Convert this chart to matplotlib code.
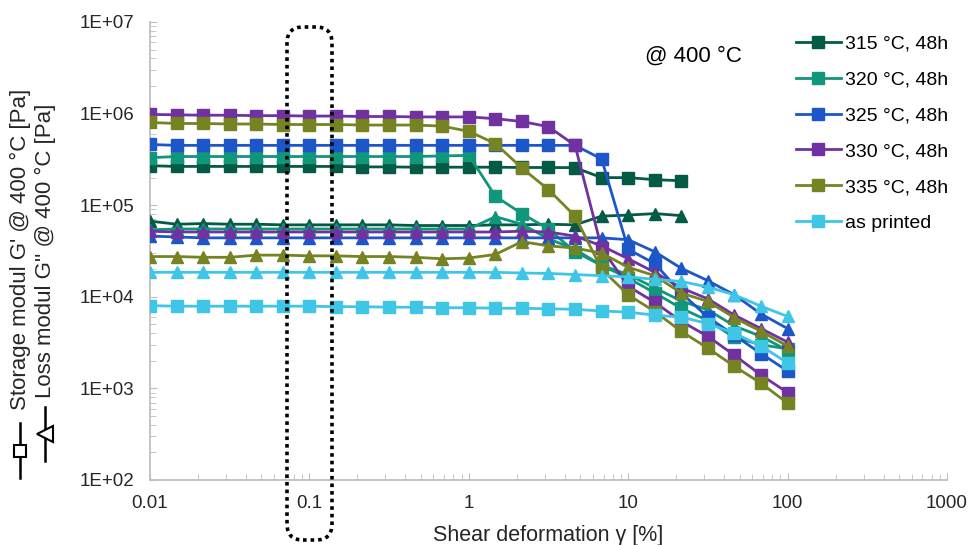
import numpy as np
import matplotlib
matplotlib.use("Agg")
import matplotlib.pyplot as plt
from matplotlib.lines import Line2D
from matplotlib.patches import FancyBboxPatch
from matplotlib.transforms import IdentityTransform

plt.rcParams["font.family"] = ["Liberation Sans", "DejaVu Sans"]

# shear deformation [%], 6 points per decade
strain = [0.01, 0.0147, 0.0215, 0.0316, 0.0464, 0.0681, 0.1, 0.147, 0.215, 0.316,
          0.464, 0.681, 1, 1.47, 2.15, 3.16, 4.64, 6.81, 10, 14.7, 21.5, 31.6,
          46.4, 68.1, 100]

labels = ["315 °C, 48h", "320 °C, 48h", "325 °C, 48h", "330 °C, 48h",
          "335 °C, 48h", "as printed"]
colors = ["#035a45", "#10967a", "#1c56c9", "#7131a1", "#768322", "#3fc6e6"]

# storage modulus G' [Pa]
g1_315 = [2.7e5, 2.65e5, 2.65e5, 2.65e5, 2.65e5, 2.65e5, 2.65e5, 2.65e5, 2.62e5,
          2.62e5, 2.6e5, 2.6e5, 2.6e5, 2.6e5, 2.58e5, 2.58e5, 2.57e5, 2.0e5,
          2.0e5, 1.9e5, 1.85e5]
g1_320 = [3.3e5, 3.4e5, 3.4e5, 3.4e5, 3.4e5, 3.4e5, 3.4e5, 3.4e5, 3.4e5, 3.4e5,
          3.4e5, 3.45e5, 3.5e5, 1.25e5, 8.1e4, 5.5e4, 3.1e4, 2.2e4, 1.6e4,
          1.1e4, 7.5e3, 5.5e3, 3.6e3, 3.0e3, 2.7e3]
g1_325 = [4.6e5, 4.5e5, 4.5e5, 4.5e5, 4.5e5, 4.5e5, 4.5e5, 4.5e5, 4.5e5, 4.5e5,
          4.5e5, 4.5e5, 4.5e5, 4.5e5, 4.5e5, 4.5e5, 4.5e5, 3.2e5, 3.3e4,
          2.3e4, 1.1e4, 6.0e3, 3.8e3, 2.4e3, 1.55e3]
g1_330 = [9.8e5, 9.7e5, 9.6e5, 9.6e5, 9.5e5, 9.5e5, 9.4e5, 9.4e5, 9.3e5, 9.3e5,
          9.2e5, 9.2e5, 9.2e5, 8.8e5, 8.2e5, 7.2e5, 4.5e5, 3.4e4, 1.3e4,
          8.7e3, 5.4e3, 3.7e3, 2.3e3, 1.4e3, 9.0e2]
g1_335 = [8.0e5, 7.8e5, 7.8e5, 7.7e5, 7.7e5, 7.6e5, 7.6e5, 7.6e5, 7.5e5, 7.5e5,
          7.5e5, 7.3e5, 6.4e5, 4.7e5, 2.55e5, 1.48e5, 7.6e4, 2.0e4, 1.05e4,
          6.9e3, 4.2e3, 2.75e3, 1.74e3, 1.14e3, 6.9e2]
g1_ap = [8.0e3, 7.9e3, 7.9e3, 7.9e3, 7.9e3, 7.9e3, 7.9e3, 7.8e3, 7.8e3, 7.7e3,
         7.7e3, 7.6e3, 7.6e3, 7.5e3, 7.5e3, 7.4e3, 7.3e3, 7.0e3, 6.8e3, 6.3e3,
         6.0e3, 5.1e3, 4.0e3, 2.9e3, 1.9e3]

# loss modulus G'' [Pa]
g2_315 = [6.7e4, 6.2e4, 6.3e4, 6.2e4, 6.2e4, 6.1e4, 6.1e4, 6.1e4, 6.1e4, 6.1e4,
          6.0e4, 6.0e4, 6.0e4, 6.1e4, 6.1e4, 6.2e4, 6.1e4, 7.6e4, 7.8e4,
          8.1e4, 7.7e4]
g2_320 = [5.4e4, 5.5e4, 5.5e4, 5.5e4, 5.5e4, 5.5e4, 5.5e4, 5.5e4, 5.5e4, 5.5e4,
          5.5e4, 5.5e4, 5.5e4, 7.5e4, 6.2e4, 4.3e4, 3.3e4, 2.2e4, 1.75e4,
          1.25e4, 9.0e3, 7.2e3, 4.8e3, 3.7e3, 2.6e3]
g2_325 = [4.6e4, 4.5e4, 4.4e4, 4.4e4, 4.4e4, 4.4e4, 4.4e4, 4.4e4, 4.4e4, 4.4e4,
          4.4e4, 4.4e4, 4.4e4, 4.4e4, 4.4e4, 4.4e4, 4.4e4, 4.4e4, 4.2e4,
          3.1e4, 2.05e4, 1.5e4, 1.05e4, 6.5e3, 4.5e3]
g2_330 = [5.2e4, 5.1e4, 5.1e4, 5.1e4, 5.1e4, 5.1e4, 5.1e4, 5.1e4, 5.1e4, 5.1e4,
          5.1e4, 5.1e4, 5.1e4, 5.1e4, 5.2e4, 5.1e4, 4.6e4, 3.6e4, 2.6e4,
          1.85e4, 1.25e4, 9.5e3, 6.3e3, 4.5e3, 3.2e3]
g2_335 = [2.75e4, 2.75e4, 2.7e4, 2.7e4, 2.85e4, 2.85e4, 2.8e4, 2.8e4, 2.75e4,
          2.75e4, 2.7e4, 2.6e4, 2.65e4, 2.9e4, 4.0e4, 3.6e4, 3.4e4, 3.0e4,
          2.1e4, 1.7e4, 1.1e4, 8.9e3, 5.9e3, 4.2e3, 2.9e3]
g2_ap = [1.85e4, 1.85e4, 1.85e4, 1.85e4, 1.85e4, 1.85e4, 1.85e4, 1.85e4, 1.85e4,
         1.85e4, 1.85e4, 1.85e4, 1.85e4, 1.85e4, 1.82e4, 1.8e4, 1.75e4, 1.7e4,
         1.65e4, 1.55e4, 1.47e4, 1.28e4, 1.05e4, 7.9e3, 6.1e3]

storage = [g1_315, g1_320, g1_325, g1_330, g1_335, g1_ap]
loss = [g2_315, g2_320, g2_325, g2_330, g2_335, g2_ap]

fig = plt.figure(figsize=(9.69, 5.45), dpi=100)
ax = fig.add_axes([150 / 969, 65 / 545, 797 / 969, 458 / 545])

for g1, g2, c, lab in zip(storage, loss, colors, labels):
    ax.plot(strain[:len(g1)], g1, color=c, lw=2.0, marker="s", ms=9,
            label=lab, zorder=3)
    ax.plot(strain[:len(g2)], g2, color=c, lw=2.0, marker="^", ms=9,
            zorder=3)

ax.set_xscale("log")
ax.set_yscale("log")
ax.set_xlim(0.01, 1000)
ax.set_ylim(1e2, 1e7)

ax.set_xticks([0.01, 0.1, 1, 10, 100, 1000])
ax.set_xticklabels(["0.01", "0.1", "1", "10", "100", "1000"])
ax.set_yticks([1e2, 1e3, 1e4, 1e5, 1e6, 1e7])
ax.set_yticklabels(["1E+02", "1E+03", "1E+04", "1E+05", "1E+06", "1E+07"])
ax.tick_params(which="both", direction="in", color="#bfbfbf", labelsize=13.5,
               labelcolor="#262626")
ax.tick_params(axis="y", pad=11)
ax.tick_params(axis="x", pad=11)
ax.tick_params(which="major", length=5)
ax.tick_params(which="minor", length=4)
for s in ["top", "right"]:
    ax.spines[s].set_visible(False)
for s in ["left", "bottom"]:
    ax.spines[s].set_color("#bfbfbf")
    ax.spines[s].set_linewidth(1.3)

ax.set_xlabel("Shear deformation γ [%]", fontsize=15.5, color="#262626",
              labelpad=9)

# y axis titles with symbol keys
fig.text(20 / 969, 1 - 410 / 545, "Storage modul G' @ 400 °C [Pa]",
         rotation=90, ha="center", va="bottom", fontsize=16, color="#262626")
fig.text(45 / 969, 1 - 398 / 545, "Loss modul G'' @ 400 °C [Pa]",
         rotation=90, ha="center", va="bottom", fontsize=16, color="#262626")
fig.add_artist(Line2D([20 / 969, 20 / 969], [1 - 423 / 545, 1 - 478 / 545],
                      color="black", lw=1.8, transform=fig.transFigure))
fig.add_artist(Line2D([20 / 969], [1 - 451 / 545], marker="s", ms=9,
                      mfc="white", mec="black", mew=1.5, ls="none",
                      transform=fig.transFigure))
fig.add_artist(Line2D([45 / 969, 45 / 969], [1 - 407 / 545, 1 - 461 / 545],
                      color="black", lw=1.8, transform=fig.transFigure))
fig.add_artist(Line2D([45 / 969], [1 - 434 / 545], marker="<", ms=11,
                      mfc="white", mec="black", mew=1.5, ls="none",
                      transform=fig.transFigure))

ax.text(693 / 969, 1 - 56 / 545, "@ 400 °C", transform=fig.transFigure,
        ha="center", va="center", fontsize=16, color="black")

ax.legend(loc="upper left", bbox_to_anchor=(796 / 969, 1 - 35 / 545),
          bbox_transform=fig.transFigure, frameon=False, fontsize=14,
          handlelength=2.3, handletextpad=0.2, labelspacing=0.94,
          borderaxespad=0, borderpad=0, markerscale=0.9)

# dotted highlight around 0.1 %
box = FancyBboxPatch((287, 5), 45, 513, boxstyle="round,pad=0,rounding_size=16",
                     transform=IdentityTransform(), fill=False, ec="black",
                     lw=2.6, ls=(0, (1, 1.1)), zorder=10)
fig.add_artist(box)

fig.savefig("out.png", dpi=100)
